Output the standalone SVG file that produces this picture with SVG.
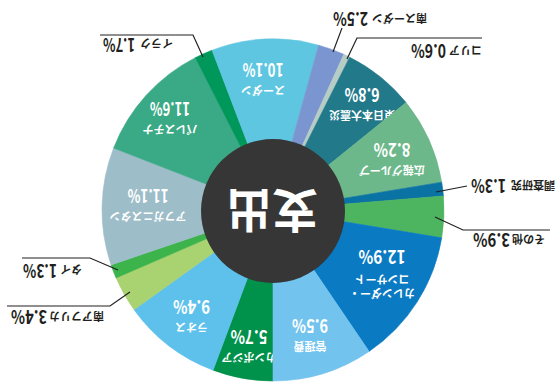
<svg xmlns="http://www.w3.org/2000/svg" width="560" height="384" viewBox="0 0 560 384">
<style>
  text { font-family: "Noto Sans CJK JP", "Noto Sans", sans-serif; font-weight: bold; }
  .in { fill: #ffffff; text-anchor: middle; }
  .nm { font-size: 11px; }
  .pc { font-size: 19px; }
  .ex { fill: #231f20; }
  .en { font-size: 11px; text-anchor: end; }
  .ep { font-size: 19px; text-anchor: start; }
  .lead { fill: none; stroke: #231f20; stroke-width: 1.2; }
  .s { stroke-width: 0.6; }
</style>
<rect width="560" height="384" fill="#ffffff"/>

<g id="slices">
  <g id="cambodia"><path class="s" fill="#00914a" stroke="#00914a" d="M273,210 L273,381 A171,171 0 0 1 213.06,370.14 Z"/>
    <g transform="translate(249,346.5) rotate(180)"><text class="in nm" x="0" y="-6">カンボジア</text><text class="in pc" x="0" y="17" textLength="37" lengthAdjust="spacingAndGlyphs">5.7%</text></g></g>
  <g id="laos"><path class="s" fill="#5ec1ec" stroke="#5ec1ec" d="M273,210 L213.06,370.14 A171,171 0 0 1 134.01,309.64 Z"/>
    <g transform="translate(191.5,317) rotate(180)"><text class="in nm" x="0" y="-6">ラオス</text><text class="in pc" x="0" y="17" textLength="37" lengthAdjust="spacingAndGlyphs">9.4%</text></g></g>
  <g id="south-africa"><path class="s" fill="#a9d271" stroke="#a9d271" d="M273,210 L134.01,309.64 A171,171 0 0 1 116.06,277.91 Z"/></g>
  <g id="thai"><path class="s" fill="#3db34b" stroke="#3db34b" d="M273,210 L116.06,277.91 A171,171 0 0 1 111.05,264.88 Z"/></g>
  <g id="afghanistan"><path class="s" fill="#9dbdc9" stroke="#9dbdc9" d="M273,210 L111.05,264.88 A171,171 0 0 1 113.61,148.06 Z"/>
    <g transform="translate(148,206) rotate(180)"><text class="in nm" x="0" y="-6">アフガニスタン</text><text class="in pc" x="0" y="17" textLength="41" lengthAdjust="spacingAndGlyphs">11.1%</text></g></g>
  <g id="palestine"><path class="s" fill="#3aa985" stroke="#3aa985" d="M273,210 L113.61,148.06 A171,171 0 0 1 195.37,57.64 Z"/>
    <g transform="translate(170,118.5) rotate(180)"><text class="in nm" x="0" y="-6">パレスチナ</text><text class="in pc" x="0" y="17" textLength="40" lengthAdjust="spacingAndGlyphs">11.6%</text></g></g>
  <g id="iraq"><path class="s" fill="#00975a" stroke="#00975a" d="M273,210 L195.37,57.64 A171,171 0 0 1 212.06,50.23 Z"/></g>
  <g id="sudan"><path class="s" fill="#5ec6e0" stroke="#5ec6e0" d="M273,210 L212.06,50.23 A171,171 0 0 1 318.64,45.21 Z"/>
    <g transform="translate(263,79.5) rotate(180)"><text class="in nm" x="0" y="-6">スーダン</text><text class="in pc" x="0" y="17" textLength="41" lengthAdjust="spacingAndGlyphs">10.1%</text></g></g>
  <g id="south-sudan"><path class="s" fill="#7a95cf" stroke="#7a95cf" d="M273,210 L318.64,45.21 A171,171 0 0 1 343.86,54.37 Z"/></g>
  <g id="korea"><path class="s" fill="#b5cdc5" stroke="#b5cdc5" d="M273,210 L343.86,54.37 A171,171 0 0 1 349.68,57.16 Z"/></g>
  <g id="east-japan"><path class="s" fill="#21798a" stroke="#21798a" d="M273,210 L349.68,57.16 A171,171 0 0 1 406.07,102.61 Z"/>
    <g transform="translate(362,104.5) rotate(180)"><text class="in nm" x="0" y="-6">東日本大震災</text><text class="in pc" x="0" y="17" textLength="35" lengthAdjust="spacingAndGlyphs">6.8%</text></g></g>
  <g id="pr-group"><path class="s" fill="#6cb88a" stroke="#6cb88a" d="M273,210 L406.07,102.61 A171,171 0 0 1 441.72,182.2 Z"/>
    <g transform="translate(392,160) rotate(180)"><text class="in nm" x="0" y="-6">広報グループ</text><text class="in pc" x="0" y="17" textLength="37" lengthAdjust="spacingAndGlyphs">8.2%</text></g></g>
  <g id="research"><path class="s" fill="#0b73a3" stroke="#0b73a3" d="M273,210 L441.72,182.2 A171,171 0 0 1 443.43,196.05 Z"/></g>
  <g id="other"><path class="s" fill="#4db560" stroke="#4db560" d="M273,210 L443.43,196.05 A171,171 0 0 1 441.72,237.8 Z"/></g>
  <g id="calendar-concert"><path class="s" fill="#0a7ac2" stroke="#0a7ac2" d="M273,210 L441.72,237.8 A171,171 0 0 1 369.12,351.43 Z"/>
    <g transform="translate(382,274.5) rotate(180)"><text class="in nm" x="0" y="-14">カレンダー・</text><text class="in nm" x="0" y="0">コンサート</text><text class="in pc" x="0" y="24.5" textLength="47" lengthAdjust="spacingAndGlyphs">12.9%</text></g></g>
  <g id="admin"><path class="s" fill="#72c3ee" stroke="#72c3ee" d="M273,210 L369.12,351.43 A171,171 0 0 1 273,381 Z"/>
    <g transform="translate(310,336) rotate(180)"><text class="in nm" x="0" y="-6">管理費</text><text class="in pc" x="0" y="17" textLength="36" lengthAdjust="spacingAndGlyphs">9.5%</text></g></g>
</g>

<g id="center">
  <circle cx="273" cy="211" r="72" fill="#363636"/>
  <g transform="translate(272,211) rotate(180)"><text class="in" x="0" y="17" font-size="46">支出</text></g>
</g>

<g id="connectors">
  <polyline class="lead" points="100,35 193,35 203,57"/>
  <line class="lead" x1="342" y1="28" x2="333" y2="52"/>
  <polyline class="lead" points="482,38 357,38 347,59"/>
  <line class="lead" x1="467" y1="186" x2="436" y2="192"/>
  <polyline class="lead" points="550,230 463,230 435,217"/>
  <polyline class="lead" points="22,258 90,258 118,270"/>
  <polyline class="lead" points="7,306 110,306 130,292"/>
</g>

<g id="outer-labels">
  <g id="lbl-iraq" transform="translate(138,44) rotate(180)"><text class="ex en" x="-2" y="5">イラク</text><text class="ex ep" x="3" y="6" textLength="32" lengthAdjust="spacingAndGlyphs">1.7%</text></g>
  <g id="lbl-south-sudan" transform="translate(380,19) rotate(180)"><text class="ex en" x="8" y="5">南スーダン</text><text class="ex ep" x="12" y="7" font-size="21" textLength="35" lengthAdjust="spacingAndGlyphs">2.5%</text></g>
  <g id="lbl-korea" transform="translate(446,51) rotate(180)"><text class="ex en" x="-3" y="5">コリア</text><text class="ex ep" x="0" y="7" font-size="21" textLength="35" lengthAdjust="spacingAndGlyphs">0.6%</text></g>
  <g id="lbl-research" transform="translate(515,186) rotate(180)"><text class="ex en" x="4" y="5" font-size="12">調査研究</text><text class="ex ep" x="9" y="7" textLength="35" lengthAdjust="spacingAndGlyphs">1.3%</text></g>
  <g id="lbl-other" transform="translate(510,240) rotate(180)"><text class="ex en" x="-2" y="5" font-size="12">その他</text><text class="ex ep" x="0" y="7" font-size="21" textLength="37" lengthAdjust="spacingAndGlyphs">3.9%</text></g>
  <g id="lbl-thai" transform="translate(52,270) rotate(180)"><text class="ex en" x="-8" y="5">タイ</text><text class="ex ep" x="-5" y="6" textLength="34" lengthAdjust="spacingAndGlyphs">1.3%</text></g>
  <g id="lbl-south-africa" transform="translate(60,317) rotate(180)"><text class="ex en" x="11" y="5" font-size="12">南アフリカ</text><text class="ex ep" x="13" y="7" font-size="21" textLength="36" lengthAdjust="spacingAndGlyphs">3.4%</text></g>
</g>
</svg>
